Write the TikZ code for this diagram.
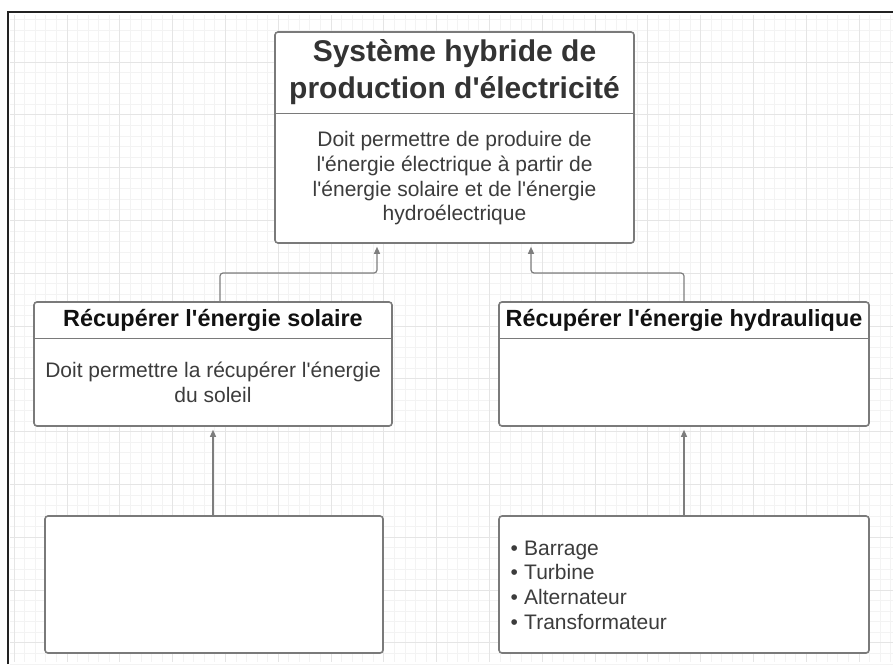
\documentclass[tikz,border=0pt]{standalone}
\usepackage{fontspec}
\setmainfont{Liberation Sans}
\usetikzlibrary{arrows.meta}
\newcommand\apos{\textquotesingle}
\definecolor{gridminor}{HTML}{F3F3F3}
\definecolor{gridmajor}{HTML}{E5E5E5}
\definecolor{boxgray}{HTML}{7A7A7A}
\definecolor{conngray}{HTML}{7E7E7E}
\definecolor{titlec}{HTML}{333333}
\definecolor{subtitlec}{HTML}{111111}
\definecolor{bodyc}{HTML}{3C3C3C}
\definecolor{framec}{HTML}{222222}
\tikzset{
  box/.style={draw=boxgray, line width=1.6pt, rounded corners=3pt, fill=white, inner sep=0pt},
  hdr/.style={inner sep=0pt, align=center, anchor=north},
  divider/.style={draw=boxgray, line width=1.6pt},
  conn/.style={draw=conngray, line width=1.2pt, -{Triangle[length=7pt,width=6pt]}, shorten >=3pt, rounded corners=3pt},
  bigtitle/.style={font=\bfseries\fontsize{30}{37}\selectfont, text=titlec},
  subtitle/.style={font=\bfseries\fontsize{23.4}{28}\selectfont, text=subtitlec},
  bodytext/.style={font=\fontsize{21}{24.7}\selectfont, text=bodyc}
}
\begin{document}
\begin{tikzpicture}[x=1pt,y=-1pt]
\useasboundingbox (0,0) rectangle (893,664);
\fill[white] (0,0) rectangle (893,664);
% grid
\foreach \i in {0,...,83}{
  \pgfmathsetmacro\xx{14.2+10.56*\i}
  \draw[gridminor, line width=0.8pt] (\xx,15) -- (\xx,662);
}
\foreach \i in {0,...,61}{
  \pgfmathsetmacro\yy{19.8+10.56*\i}
  \draw[gridminor, line width=0.8pt] (10,\yy) -- (893,\yy);
}
\foreach \i in {0,...,16}{
  \pgfmathsetmacro\xx{14.2+52.8*\i}
  \draw[gridmajor, line width=0.9pt] (\xx,15) -- (\xx,662);
}
\foreach \i in {1,...,12}{
  \pgfmathsetmacro\yy{9.2+52.8*\i}
  \draw[gridmajor, line width=0.9pt] (10,\yy) -- (893,\yy);
}
% frame
\draw[framec, line width=1.6pt] (8,664) -- (8,12) -- (893,12);

% top box
\node[box, minimum width=359pt, minimum height=211pt] (top) at (454.5,137.5) {};
\node[hdr, bigtitle, minimum width=359pt, minimum height=82pt] (tophdr) at (top.north) {Système hybride de\\production d\apos électricité};
\draw[divider] (tophdr.south west) -- (tophdr.south east);
\node[hdr, bodytext, minimum width=359pt, minimum height=129pt] (topbody) at (tophdr.south) {Doit permettre de produire de\\l\apos énergie électrique à partir de\\l\apos énergie solaire et de l\apos énergie\\hydroélectrique};

% left middle box
\node[box, minimum width=358pt, minimum height=124pt] (lmid) at (213,364) {};
\node[hdr, subtitle, minimum width=358pt, minimum height=37pt] (lmidhdr) at (lmid.north) {Récupérer l\apos énergie solaire};
\draw[divider] (lmidhdr.south west) -- (lmidhdr.south east);
\node[hdr, bodytext, minimum width=358pt, minimum height=87pt] (lmidbody) at (lmidhdr.south) {Doit permettre la récupérer l\apos énergie\\du soleil};

% right middle box
\node[box, minimum width=370pt, minimum height=124pt] (rmid) at (684,364) {};
\node[hdr, subtitle, minimum width=370pt, minimum height=37pt] (rmidhdr) at (rmid.north) {Récupérer l\apos énergie hydraulique};
\draw[divider] (rmidhdr.south west) -- (rmidhdr.south east);

% bottom boxes
\node[box, minimum width=338pt, minimum height=137pt] (lbot) at (214,584.5) {};
\node[box, minimum width=370pt, minimum height=137pt] (rbot) at (684,584.5) {};
\node[bodytext, align=left, anchor=west, inner sep=0pt] (rlist) at (510.5,585) {\makebox[13.5pt][l]{•}Barrage\\\makebox[13.5pt][l]{•}Turbine\\\makebox[13.5pt][l]{•}Alternateur\\\makebox[13.5pt][l]{•}Transformateur};

% connectors
\coordinate (lj) at (377,273);
\coordinate (rj) at (531,273);
\draw[conn] ([xshift=7pt]lmid.north) |- (lj) -- (lj |- top.south);
\draw[conn] (rmid.north) |- (rj) -- (rj |- top.south);
\draw[conn] (lbot.north -| lmid.south) -- (lmid.south);
\draw[conn] (rbot.north) -- (rmid.south);
\end{tikzpicture}
\end{document}
